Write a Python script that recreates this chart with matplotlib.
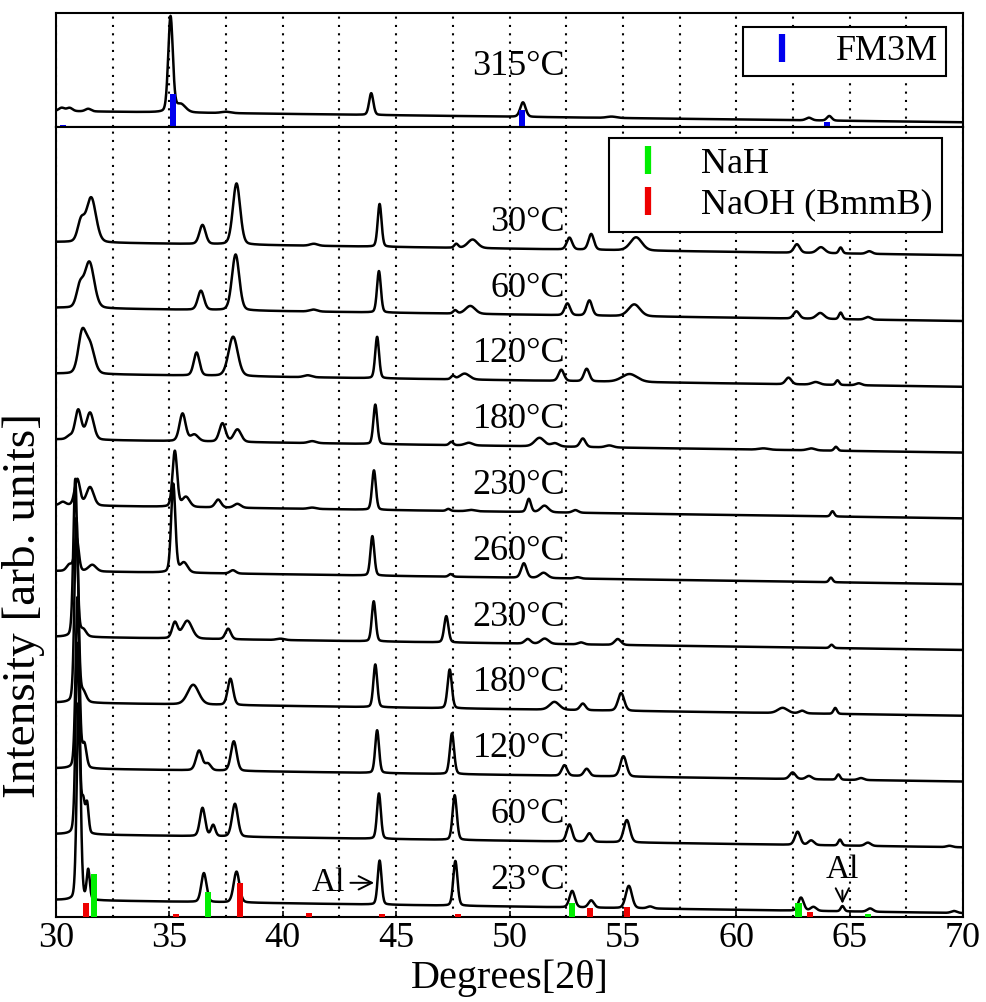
import numpy as np
import matplotlib.pyplot as plt
from matplotlib.lines import Line2D

plt.rcParams['font.family'] = ['Liberation Serif', 'DejaVu Serif']

# ~~~~~~~~~~~~~~~~~~~~~~~~~~~~~~~~~~~~~~~~~~~~~~~~~~~~~~~~~~~~~~~~~~~~~~~~~~~~~~~~~~~~~~~~
# peak lists: (2theta, height, fwhm), heights in units of trace spacing

peaks_315 = [(30.25, 0.05, 0.3), (30.6, 0.05, 0.3), (31.42, 0.04, 0.3), (35.05, 1.45, 0.24),
             (35.5, 0.12, 0.5), (37.5, 0.02, 0.5), (43.9, 0.33, 0.22), (50.59, 0.22, 0.28),
             (54.5, 0.02, 0.5), (63.2, 0.04, 0.3), (64.1, 0.07, 0.25)]

peaks_30 = [(31.1, 0.3, 0.35), (31.55, 0.68, 0.5), (36.46, 0.29, 0.32), (37.96, 0.93, 0.38),
            (41.37, 0.03, 0.4), (44.27, 0.65, 0.2), (47.65, 0.06, 0.2), (48.37, 0.13, 0.5),
            (52.64, 0.18, 0.28), (53.6, 0.24, 0.28), (55.58, 0.2, 0.6), (62.67, 0.13, 0.3),
            (63.73, 0.09, 0.4), (64.6, 0.09, 0.18), (65.86, 0.04, 0.3)]

peaks_60 = [(31.05, 0.3, 0.35), (31.47, 0.7, 0.5), (36.39, 0.29, 0.32), (37.92, 0.85, 0.38),
            (41.35, 0.03, 0.4), (44.24, 0.63, 0.2), (47.6, 0.05, 0.2), (48.27, 0.12, 0.5),
            (52.55, 0.18, 0.28), (53.52, 0.23, 0.28), (55.5, 0.18, 0.6), (62.65, 0.11, 0.3),
            (63.7, 0.09, 0.4), (64.6, 0.1, 0.18), (65.8, 0.04, 0.3)]

peaks_120 = [(31.15, 0.6, 0.4), (31.5, 0.42, 0.45), (36.2, 0.35, 0.3), (37.81, 0.6, 0.48),
             (41.1, 0.03, 0.4), (44.16, 0.63, 0.2), (47.5, 0.05, 0.2), (48.02, 0.09, 0.5),
             (52.28, 0.17, 0.28), (53.4, 0.19, 0.28), (55.29, 0.12, 0.8), (62.3, 0.1, 0.3),
             (63.5, 0.04, 0.4), (64.46, 0.07, 0.18), (65.4, 0.03, 0.3)]

peaks_180 = [(30.6, 0.05, 0.3), (30.98, 0.45, 0.32), (31.5, 0.41, 0.38), (35.58, 0.42, 0.32),
             (36.1, 0.1, 0.4), (37.34, 0.28, 0.32), (38.0, 0.19, 0.38), (41.3, 0.03, 0.4),
             (44.08, 0.6, 0.2), (47.43, 0.05, 0.2), (48.2, 0.04, 0.4), (51.32, 0.13, 0.5),
             (52.0, 0.05, 0.4), (53.23, 0.13, 0.28), (54.4, 0.03, 0.4), (61.2, 0.02, 0.5),
             (63.3, 0.03, 0.4), (64.39, 0.06, 0.18)]

peaks_230 = [(30.3, 0.05, 0.3), (30.94, 0.4, 0.28), (31.5, 0.28, 0.38), (35.24, 0.85, 0.24),
             (35.73, 0.15, 0.38), (37.15, 0.12, 0.3), (38.0, 0.06, 0.35), (41.3, 0.02, 0.4),
             (44.02, 0.6, 0.2), (47.3, 0.03, 0.2), (48.3, 0.02, 0.4), (50.85, 0.2, 0.22),
             (51.54, 0.1, 0.4), (52.9, 0.04, 0.3), (64.24, 0.08, 0.18)]

peaks_260 = [(30.6, 0.1, 0.3), (30.91, 0.5, 0.22), (31.6, 0.1, 0.4), (35.17, 1.35, 0.22),
             (35.64, 0.15, 0.38), (37.8, 0.05, 0.3), (43.95, 0.6, 0.2), (47.4, 0.04, 0.2),
             (50.63, 0.22, 0.28), (51.5, 0.08, 0.4), (53.0, 0.02, 0.3), (64.17, 0.07, 0.18)]

peaks_230c = [(30.85, 2.4, 0.2), (31.2, 0.1, 0.3), (35.24, 0.24, 0.28), (35.79, 0.27, 0.5),
              (37.59, 0.16, 0.28), (39.9, 0.02, 0.4), (44.01, 0.61, 0.2), (47.21, 0.4, 0.22),
              (50.8, 0.07, 0.3), (51.55, 0.08, 0.4), (53.15, 0.03, 0.3), (54.77, 0.09, 0.32),
              (64.2, 0.05, 0.18)]

peaks_180c = [(30.9, 2.8, 0.2), (31.2, 0.15, 0.3), (36.05, 0.3, 0.58), (37.69, 0.4, 0.28),
              (44.08, 0.65, 0.2), (47.36, 0.59, 0.22), (51.98, 0.12, 0.5), (53.23, 0.1, 0.28),
              (54.92, 0.27, 0.32), (62.04, 0.08, 0.5), (62.9, 0.04, 0.3), (64.36, 0.09, 0.18)]

peaks_120c = [(30.95, 2.6, 0.2), (31.25, 0.35, 0.22), (36.31, 0.3, 0.32), (36.7, 0.1, 0.3),
              (37.84, 0.45, 0.3), (44.16, 0.65, 0.2), (47.46, 0.62, 0.22), (52.42, 0.16, 0.28),
              (53.4, 0.11, 0.28), (55.02, 0.31, 0.32), (62.48, 0.1, 0.3), (63.2, 0.05, 0.3),
              (64.5, 0.08, 0.18), (65.5, 0.03, 0.3)]

peaks_60c = [(30.95, 2.9, 0.2), (31.2, 0.45, 0.16), (31.37, 0.45, 0.16), (36.46, 0.43, 0.27),
             (36.93, 0.17, 0.22), (37.89, 0.5, 0.3), (44.24, 0.69, 0.2), (47.58, 0.68, 0.22),
             (52.64, 0.26, 0.28), (53.52, 0.13, 0.28), (55.17, 0.34, 0.32), (62.7, 0.2, 0.28),
             (63.3, 0.07, 0.3), (64.57, 0.09, 0.18), (65.8, 0.05, 0.3), (69.4, 0.02, 0.3)]

peaks_23 = [(31.0, 3.0, 0.2), (31.42, 0.45, 0.16), (36.52, 0.44, 0.27), (37.96, 0.47, 0.3),
            (44.27, 0.67, 0.2), (47.61, 0.68, 0.22), (52.76, 0.25, 0.28), (53.6, 0.11, 0.28),
            (55.26, 0.34, 0.32), (56.2, 0.03, 0.3), (62.85, 0.2, 0.28), (63.4, 0.06, 0.3),
            (64.68, 0.08, 0.18), (65.9, 0.05, 0.3), (69.6, 0.03, 0.3)]

# bottom to top in the lower panel
patterns = [peaks_23, peaks_60c, peaks_120c, peaks_180c, peaks_230c, peaks_260,
            peaks_230, peaks_180, peaks_120, peaks_60, peaks_30]
labels = ['23°C', '60°C', '120°C', '180°C', '230°C', '260°C',
          '230°C', '180°C', '120°C', '60°C', '30°C']

# reference sticks
nah_pos = [31.67, 36.70, 52.76, 62.74, 65.8]
nah_h = [0.66, 0.38, 0.21, 0.21, 0.05]
naoh_pos = [31.34, 35.31, 38.1, 41.16, 44.37, 47.72, 53.55, 55.18, 63.25]
naoh_h = [0.21, 0.04, 0.52, 0.06, 0.04, 0.05, 0.13, 0.15, 0.08]
fm3m_pos = [30.3, 35.14, 50.56, 60.94, 63.99]
fm3m_h = [0.03, 0.5, 0.26, 0.02, 0.08]

# ~~~~~~~~~~~~~~~~~~~~~~~~~~~~~~~~~~~~~~~~~~~~~~~~~~~~~~~~~~~~~~~~~~~~~~~~~~~~~~~~~~~~~~~~

def pattern(peaks, bg=0.2):
    t = np.linspace(30, 70, 4001)
    y = bg * (70 - t) / 40
    for c, h, w in peaks:
        u = (t - c) / w
        y = y + h * (0.8 * np.exp(-4 * np.log(2) * u**2) + 0.2 / (1 + 4 * u**2))
    return t, y


def style_axis(ax):
    ax.set_xlim(30, 70)
    ax.set_xticks(np.arange(30, 71, 5))
    ax.set_xticks(np.arange(32.5, 70, 5), minor=True)
    ax.grid(True, which='both', axis='x', color='k', linestyle=(0, (1, 3)), linewidth=1.5)
    ax.set_yticks([])
    ax.tick_params(axis='x', which='major', direction='in', length=4, width=1.2, labelsize=26)
    ax.tick_params(axis='x', which='minor', length=0)
    for s in ax.spines.values():
        s.set_linewidth(1.5)


def stick_legend(ax, colors, names, anchor, size, pad, hlen):
    hs = [Line2D([0], [0], color=c, marker='|', ls='None', ms=20, mew=4.5) for c in colors]
    leg = ax.legend(hs, names, loc='upper right', bbox_to_anchor=anchor, borderaxespad=0,
                    fontsize=size, fancybox=False, framealpha=1, handlelength=hlen,
                    handletextpad=0.65, borderpad=pad, labelspacing=0.2)
    leg.get_frame().set_edgecolor('k')
    leg.get_frame().set_linewidth(1.5)


fig = plt.figure(figsize=(9.86, 10.02), dpi=100)
ax_top = fig.add_axes([0.0568, 0.873, 0.920, 0.114])
ax = fig.add_axes([0.0568, 0.0848, 0.920, 0.7882])

# top panel: 315 C
style_axis(ax_top)
ax_top.set_ylim(-0.076, 1.657)
ax_top.tick_params(axis='x', labelbottom=False, length=0)
t, y = pattern(peaks_315, bg=0.17)
ax_top.plot(t, y, color='k', lw=1.8)
ax_top.bar(fm3m_pos, fm3m_h, width=0.27, bottom=-0.076, color='#0000ee', zorder=3)
ax_top.text(52.45, 0.84, '315°C', ha='right', va='center', fontsize=26)
stick_legend(ax_top, ['#0000ee'], ['FM3M'], (0.981, 0.877), 26, 0.22, 1.7)

# bottom panel
style_axis(ax)
y0 = -0.06
ax.set_ylim(y0, 11.945)
for i, (pk, lab) in enumerate(zip(patterns, labels)):
    t, y = pattern(pk)
    ax.plot(t, y + i, color='k', lw=1.8)
    ax.text(52.45, i + 0.5, lab, ha='right', va='center', fontsize=26)

ax.bar(nah_pos, nah_h, width=0.27, bottom=y0, color='#00ee00', zorder=3)
ax.bar(naoh_pos, naoh_h, width=0.27, bottom=y0, color='#ee0000', zorder=3)

arrow = dict(arrowstyle='->', color='k', lw=1.4, shrinkA=2, shrinkB=2)
ax.annotate('Al', xy=(44.15, 0.46), xytext=(42.0, 0.46), ha='center', va='center',
            fontsize=24, arrowprops=arrow)
ax.annotate('Al', xy=(64.68, 0.1), xytext=(64.67, 0.66), ha='center', va='center',
            fontsize=24, arrowprops=arrow)

stick_legend(ax, ['#00ee00', '#ee0000'], ['NaH', 'NaOH (BmmB)'], (0.977, 0.987), 26, 0.28, 1.6)

ax.set_xlabel('Degrees[2θ]', fontsize=29, labelpad=3)
ax.set_ylabel('Intensity [arb. units]', fontsize=34)
ax.yaxis.set_label_coords(-0.012, 0.394)

plt.savefig('out.png', dpi=100)
